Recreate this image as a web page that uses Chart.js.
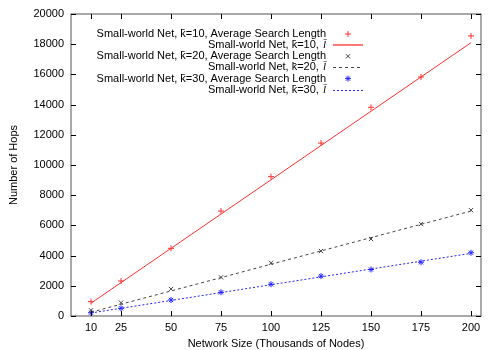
<!DOCTYPE html>
<html>
<head>
<meta charset="utf-8">
<script src="https://cdn.jsdelivr.net/npm/chart.js@4"></script>
<style>
  body { margin: 0; background: #fff; }
  canvas { display: block; }
</style>
</head>
<body>
<canvas id="chart" width="500" height="350"></canvas>
<script>
const networkSize = [10, 25, 50, 75, 100, 125, 150, 175, 200];
const xTicks = [10, 25, 50, 75, 100, 125, 150, 175, 200];

// measured average search length (points)
const avgLen10 = [950, 2320, 4480, 6950, 9230, 11450, 13820, 15830, 18550];
const avgLen20 = [380, 880, 1790, 2560, 3520, 4300, 5100, 6090, 7010];
const avgLen30 = [220, 510, 1060, 1570, 2100, 2640, 3080, 3560, 4190];

// l-bar curves (lines)
const lbar10 = [850, 2210, 4480, 6750, 9020, 11290, 13560, 15830, 18100];
const lbar20 = [250, 780, 1660, 2540, 3430, 4310, 5190, 6070, 6950];
const lbar30 = [200, 510, 1030, 1550, 2070, 2590, 3110, 3630, 4150];

const labels = [
  "Small-world Net, k\u0304=10, Average Search Length",
  "Small-world Net, k\u0304=10, ",
  "Small-world Net, k\u0304=20, Average Search Length",
  "Small-world Net, k\u0304=20, ",
  "Small-world Net, k\u0304=30, Average Search Length",
  "Small-world Net, k\u0304=30, ",
];

const FONT = "'Liberation Sans', Arial, sans-serif";
const RED = "#ff3030", GREY = "#444444", BLUE = "#2626ff";
const legendColors = [RED, RED, GREY, GREY, BLUE, BLUE];

const pts = (arr) => networkSize.map((x, i) => ({ x: x, y: arr[i] }));

const pointSet = (label, arr, color, style, r) => ({
  label: label,
  data: pts(arr),
  showLine: false,
  pointStyle: style,
  pointRadius: r,
  pointBorderWidth: 1,
  borderColor: color,
  backgroundColor: color,
});

const lineSet = (label, arr, color, dash) => ({
  label: label,
  data: pts(arr),
  showLine: true,
  pointRadius: 0,
  borderWidth: 1,
  borderDash: dash,
  borderColor: color,
  backgroundColor: color,
  italicTail: "l\u0304",
});

// gnuplot style box with inward ticks
const frame = {
  id: "frame",
  afterDraw(chart) {
    const ctx = chart.ctx;
    const a = chart.chartArea;
    const xs = chart.scales.x, ys = chart.scales.y;
    ctx.save();
    ctx.strokeStyle = "#555";
    ctx.lineWidth = 1;
    ctx.strokeRect(Math.round(a.left), Math.round(a.top), Math.round(a.right - a.left), Math.round(a.bottom - a.top));
    ctx.strokeStyle = "#000";
    ctx.beginPath();
    xs.ticks.forEach((t) => {
      const px = Math.round(xs.getPixelForValue(t.value)) + 0.5;
      ctx.moveTo(px, a.bottom); ctx.lineTo(px, a.bottom - 5);
      ctx.moveTo(px, a.top); ctx.lineTo(px, a.top + 5);
    });
    ys.ticks.forEach((t) => {
      const py = Math.round(ys.getPixelForValue(t.value)) + 0.5;
      ctx.moveTo(a.left, py); ctx.lineTo(a.left + 5, py);
      ctx.moveTo(a.right, py); ctx.lineTo(a.right - 5, py);
    });
    ctx.stroke();

    // legend, text right aligned with sample on the right
    ctx.textBaseline = "middle";
    const textRight = 326, sx0 = 333, sx1 = 363;
    chart.data.datasets.forEach((ds, i) => {
      const y = 34 + 11.15 * i;
      const color = legendColors[i];
      let right = textRight;
      ctx.fillStyle = "#000";
      ctx.textAlign = "right";
      if (ds.italicTail) {
        ctx.font = "italic 11px 'Liberation Serif', serif";
        ctx.fillText(ds.italicTail, right, y);
        right -= ctx.measureText(ds.italicTail).width + 1;
      }
      ctx.font = "11px " + FONT;
      ctx.fillText(ds.label, right, y);
      ctx.strokeStyle = color;
      ctx.fillStyle = color;
      ctx.lineWidth = 1;
      if (ds.showLine) {
        const ly = Math.round(y) + (ds.borderDash.length ? 0.5 : 0);
        ctx.setLineDash(ds.borderDash);
        ctx.lineWidth = ds.borderDash.length ? 1 : 1.3;
        ctx.beginPath();
        ctx.moveTo(sx0, ly);
        ctx.lineTo(sx1, ly);
        ctx.stroke();
        ctx.setLineDash([]);
      } else {
        Chart.helpers.drawPoint(ctx, { pointStyle: ds.pointStyle, radius: ds.pointRadius, rotation: 0, borderWidth: 1 }, (sx0 + sx1) / 2, y);
      }
    });
    ctx.restore();
  },
};

new Chart(document.getElementById("chart"), {
  type: "scatter",
  data: {
    datasets: [
      pointSet(labels[0], avgLen10, RED, "cross", 3),
      lineSet(labels[1], lbar10, RED, []),
      pointSet(labels[2], avgLen20, GREY, "crossRot", 3),
      lineSet(labels[3], lbar20, GREY, [3, 3]),
      pointSet(labels[4], avgLen30, BLUE, "star", 3),
      lineSet(labels[5], lbar30, BLUE, [2, 2]),
    ],
  },
  options: {
    responsive: false,
    animation: false,
    layout: { padding: { top: 14, right: 19, left: 0, bottom: 0 } },
    plugins: {
      legend: { display: false },
      tooltip: { enabled: false },
    },
    scales: {
      x: {
        type: "linear",
        min: 0,
        max: 205,
        afterBuildTicks: (scale) => { scale.ticks = xTicks.map((v) => ({ value: v })); },
        afterFit: (scale) => { scale.height = 34; },
        grid: { display: false, drawTicks: false },
        border: { display: false },
        ticks: { color: "#000", font: { family: FONT, size: 11 }, padding: 5, autoSkip: false, maxRotation: 0, callback: (v) => String(v) },
        title: { display: true, text: "Network Size (Thousands of Nodes)", color: "#000", font: { family: FONT, size: 11 }, padding: { top: 0, bottom: -1 } },
      },
      y: {
        min: 0,
        max: 20000,
        afterFit: (scale) => { scale.width = 71; },
        grid: { display: false, drawTicks: false },
        border: { display: false },
        ticks: { stepSize: 2000, color: "#000", font: { family: FONT, size: 11 }, padding: 7, callback: (v) => String(v) },
        title: { display: true, text: "Number of Hops", color: "#000", font: { family: FONT, size: 11 }, padding: { top: 7, bottom: 0 } },
      },
    },
  },
  plugins: [frame],
});
</script>
</body>
</html>
